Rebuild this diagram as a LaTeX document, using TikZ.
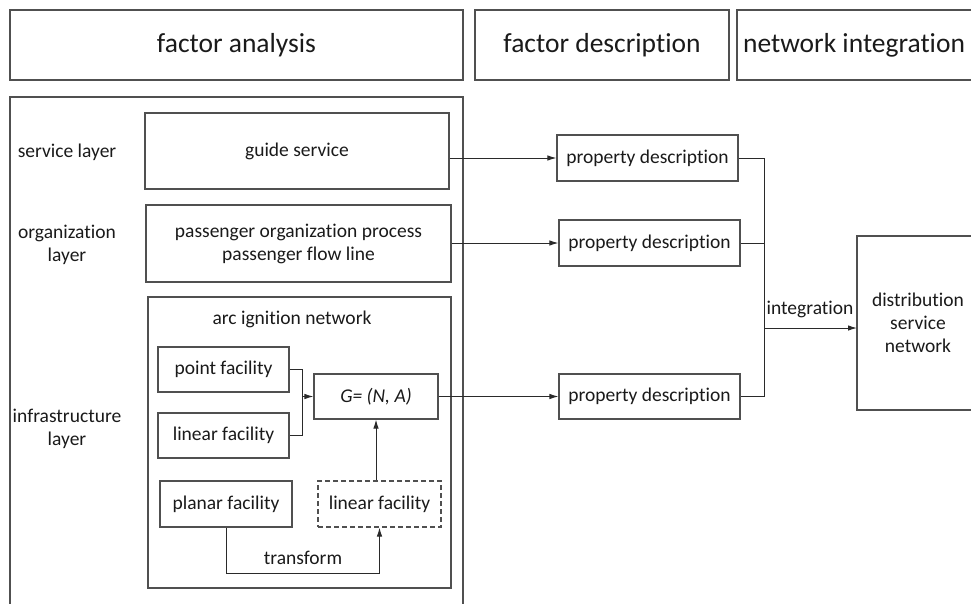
\documentclass[tikz,border=0pt]{standalone}
\usepackage{fontspec}
\setmainfont{Carlito}[Ligatures={NoCommon}]
\usetikzlibrary{arrows.meta}

\definecolor{edgegray}{HTML}{505050}
\definecolor{wiregray}{HTML}{2A2A2A}
\definecolor{inkgray}{HTML}{1A1A1A}

\tikzset{
  box/.style={draw=edgegray, line width=1.1pt, fill=white, inner sep=0pt,
              text=inkgray, align=center, font=\bodyfont},
  dashedbox/.style={box, dash pattern=on 5pt off 3pt},
  plainbox/.style={draw=edgegray, line width=1.1pt},
  label/.style={text=inkgray, align=center, font=\bodyfont, inner sep=0pt},
  headlabel/.style={text=inkgray, align=center, font=\headfont, inner sep=0pt},
  wire/.style={draw=wiregray, line width=1pt},
  arr/.style={wire, -{Latex[length=9pt,width=5.5pt]}},
}
\newcommand{\bodyfont}{\fontsize{19.5}{23}\selectfont}
\newcommand{\headfont}{\fontsize{27.5}{32}\selectfont}

\begin{document}
\begin{tikzpicture}[x=1pt, y=-1pt]
  \useasboundingbox (0,0) rectangle (971,603);
  \clip (0,0) rectangle (971,603);

  % column headers
  \node[box, font=\headfont, minimum width=453pt, minimum height=70pt] (fa) at (236.5,45) {factor analysis};
  \node[box, font=\headfont, minimum width=254pt, minimum height=70pt] (fd) at (602,45) {factor description};
  \draw[plainbox] (737,10) rectangle (985,80);
  \node[headlabel] (ni) at (854,45) {network integration};

  % factor analysis frame
  \draw[plainbox] (10,97) rectangle (463,620);

  % layer names
  \node[label] (sl) at (67,152) {service layer};
  \node[label] (ol) at (67,244.5) {organization\\layer};
  \node[label] (il) at (67,428.5) {infrastructure\\layer};

  % service and organization layers
  \node[box, minimum width=304pt, minimum height=76pt] (guide) at (297,151) {guide service};
  \node[box, minimum width=305pt, minimum height=77pt] (pass) at (298.5,243.5)
       {passenger organization process\\passenger flow line};

  % infrastructure layer
  \node[box, minimum width=303pt, minimum height=291pt] (arc) at (299.5,442.5) {};
  \node[label] (arct) at (292,319) {arc ignition network};
  \node[box, minimum width=131pt, minimum height=45pt] (point) at (223.5,369.5) {point facility};
  \node[box, minimum width=131pt, minimum height=45pt] (lin) at (223.5,435.5) {linear facility};
  \node[box, minimum width=124pt, minimum height=45pt] (G) at (376,396.5) {\itshape G= (N, A)};
  \node[box, minimum width=132pt, minimum height=46pt] (planar) at (226,504) {planar facility};
  \node[dashedbox, minimum width=123pt, minimum height=46pt] (dlin) at (379.5,504) {linear facility};

  % factor descriptions
  \node[box, minimum width=181pt, minimum height=46pt] (p1) at (647.5,158) {property description};
  \node[box, minimum width=181pt, minimum height=46pt] (p2) at (649.5,243) {property description};
  \node[box, minimum width=181pt, minimum height=45pt] (p3) at (649.5,396.5) {property description};

  % integrated network
  \draw[plainbox] (857,236) rectangle (990,410);
  \node[label] (dist) at (918,323) {distribution\\service\\network};
  \coordinate (distin) at (857,328);

  % merging point and linear facilities into G
  \coordinate (mj) at (302,396.5);
  \draw[wire] (point.east) -- (point.east -| mj) -- (lin.east -| mj) -- (lin.east);
  \draw[arr] (mj) -- (G.west);

  % planar facility transformed into a linear one
  \coordinate (tb) at (226,573);
  \draw[arr] (planar.south) -- (tb) -- (tb -| dlin.south) -- (dlin.south);
  \node[label] (tf) at (303,558) {transform};
  \draw[arr] (dlin.north -| G.south) -- (G.south);

  % layers to property descriptions
  \draw[arr] (guide.east |- p1.west) -- (p1.west);
  \draw[arr] (pass.east |- p2.west) -- (p2.west);
  \draw[arr] (G.east) -- (p3.west);

  % integration
  \coordinate (cx) at (764,328);
  \draw[wire] (p1.east) -- (p1.east -| cx) -- (p3.east -| cx) -- (p3.east);
  \draw[wire] (p2.east) -- (p2.east -| cx);
  \draw[arr] (cx) -- (distin);
  \node[label] (intl) at (810,309) {integration};
\end{tikzpicture}
\end{document}
